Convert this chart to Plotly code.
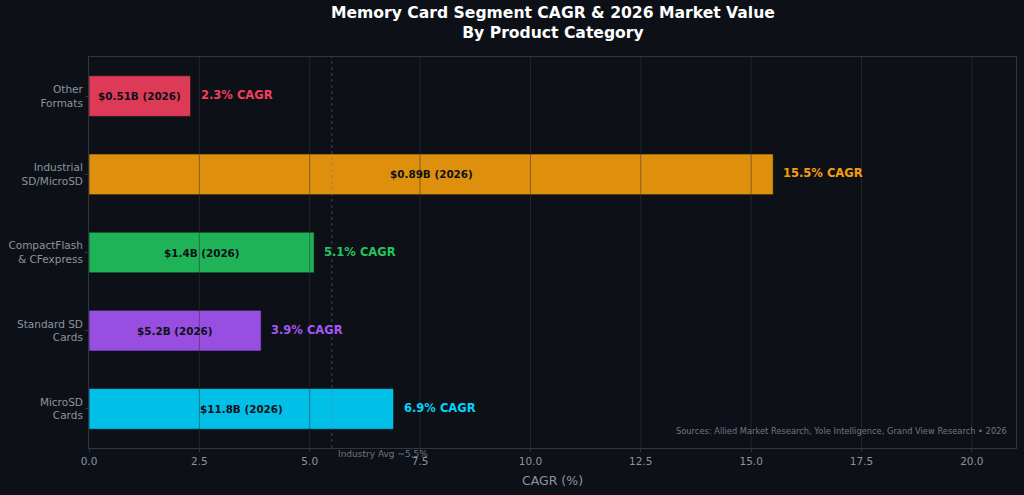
import plotly.graph_objects as go

categories = ["MicroSD<br>Cards", "Standard SD<br>Cards", "CompactFlash<br>& CFexpress", "Industrial<br>SD/MicroSD", "Other<br>Formats"]
cagr = [6.9, 3.9, 5.1, 15.5, 2.3]
market_2026 = ["$11.8B", "$5.2B", "$1.4B", "$0.89B", "$0.51B"]
colors = ["#00d4ff", "#a855f7", "#22c55e", "#f59e0b", "#f43f5e"]
x_ticks = [0.0, 2.5, 5.0, 7.5, 10.0, 12.5, 15.0, 17.5, 20.0]
industry_avg = 5.5

BG = "#0d1117"
GRID = "rgba(48,54,61,0.55)"
SPINE = "#30363d"
TICK = "#8b949e"
FONT = "DejaVu Sans"

fig = go.Figure()
fig.add_trace(go.Bar(
    y=categories, x=cagr, orientation="h", width=0.52,
    marker=dict(color=colors, opacity=0.9, line=dict(color="rgba(13,17,23,0.6)", width=1)),
    hoverinfo="skip", showlegend=False,
))

shapes = []
for t in x_ticks[1:]:
    shapes.append(dict(type="line", xref="x", yref="paper", x0=t, x1=t, y0=0, y1=1,
                       line=dict(color=GRID, width=1), layer="above"))
shapes.append(dict(type="line", xref="x", yref="paper", x0=industry_avg, x1=industry_avg, y0=0, y1=1,
                   line=dict(color="rgba(110,118,129,0.5)", width=1, dash="3px,3px"), layer="above"))

annotations = []
for cat, v, m, c in zip(categories, cagr, market_2026, colors):
    annotations.append(dict(x=v / 2, y=cat, xref="x", yref="y", text=f"<b>{m} (2026)</b>",
                            showarrow=False, font=dict(family=FONT, size=10.4, color="#0d1117")))
    annotations.append(dict(x=v, y=cat, xref="x", yref="y", text=f"<b>{v}% CAGR</b>",
                            xanchor="left", xshift=8, yshift=1, showarrow=False,
                            font=dict(family=FONT, size=11.5, color=c)))
annotations.append(dict(x=industry_avg, y=0, xref="x", yref="paper", text=f"Industry Avg ~{industry_avg}%",
                        xanchor="left", yanchor="top", xshift=4, yshift=1, showarrow=False,
                        font=dict(family=FONT, size=9, color="#6e7681")))
annotations.append(dict(x=0.992, y=0.025, xref="paper", yref="paper",
                        text="Sources: Allied Market Research, Yole Intelligence, Grand View Research • 2026",
                        xanchor="right", yanchor="bottom", showarrow=False,
                        font=dict(family=FONT, size=8.3, color="#6e7681")))
annotations.append(dict(x=0.5, y=1, xref="paper", yref="paper", yanchor="bottom", yshift=13,
                        text="<b>Memory Card Segment CAGR & 2026 Market Value<br>By Product Category</b>",
                        showarrow=False, font=dict(family=FONT, size=15.6, color="#ffffff")))

fig.update_layout(
    width=1024, height=495,
    margin=dict(l=89, r=8, t=57, b=47),
    paper_bgcolor=BG, plot_bgcolor=BG,
    font=dict(family=FONT, color=TICK),
    xaxis=dict(range=[0, 21], tickvals=x_ticks, ticktext=[f"{t:.1f}" for t in x_ticks],
               showgrid=False, zeroline=False, showline=True, linecolor=SPINE, mirror=True,
               ticks="outside", ticklen=3, tickcolor=SPINE,
               tickfont=dict(family=FONT, size=10.5, color=TICK),
               title=dict(text="CAGR (%)", font=dict(family=FONT, size=12.5, color=TICK), standoff=10)),
    yaxis=dict(range=[-0.5, 4.5], showgrid=False, zeroline=False, showline=True, linecolor=SPINE, mirror=True,
               ticks="outside", ticklen=3, tickcolor=SPINE,
               tickfont=dict(family=FONT, size=10.5, color=TICK)),
    shapes=shapes, annotations=annotations,
    bargap=0.48,
)

fig.write_html("out.html")
